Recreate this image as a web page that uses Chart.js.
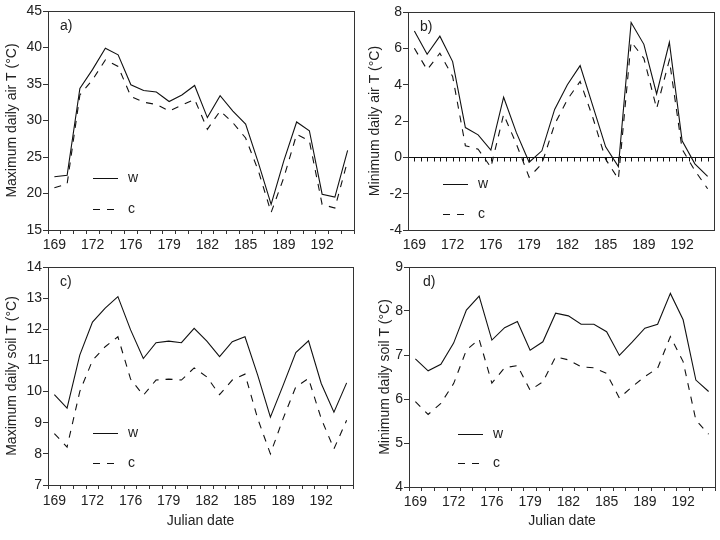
<!DOCTYPE html>
<html><head><meta charset="utf-8">
<script src="https://cdn.jsdelivr.net/npm/chart.js@4.4.0/dist/chart.umd.min.js"></script>
<style>
html,body{margin:0;padding:0;background:#fff;width:720px;height:540px;overflow:hidden}
canvas{position:absolute}
</style></head><body>
<canvas id="pa" width="360" height="258" style="left:0;top:0"></canvas>
<canvas id="pb" width="360" height="258" style="left:360px;top:0"></canvas>
<canvas id="pc" width="360" height="285" style="left:0;top:255px"></canvas>
<canvas id="pd" width="360" height="285" style="left:360px;top:255px"></canvas>
<script>
// Julian dates (categories) and tick labels
const dates = [169,170,171,172,173,174,176,177,178,179,180,181,182,183,184,185,186,187,189,190,191,192,193,194];
const seriesNames = ['w','c'];
// a) Maximum daily air T
const maxAirW = [22.3,22.5,34.4,37.0,39.9,39.0,34.9,34.1,33.9,32.6,33.5,34.8,30.4,33.4,31.3,29.5,24.2,18.5,24.5,29.8,28.6,19.9,19.5,25.9];
const maxAirC = [20.8,21.3,33.5,35.6,38.3,37.4,33.3,32.5,32.2,31.3,32.1,32.9,28.8,31.3,29.7,27.6,23.1,17.4,22.2,28.1,27.2,18.5,18.0,24.5];
// b) Minimum daily air T
const minAirW = [6.95,5.67,6.67,5.27,1.64,1.24,0.4,3.31,1.36,-0.27,0.36,2.64,4.0,5.05,2.82,0.58,-0.51,7.42,6.22,3.49,6.33,0.91,-0.36,-1.05];
const minAirC = [6.0,4.82,5.73,4.45,0.64,0.45,-0.55,2.36,0.73,-1.09,-0.36,1.82,3.18,4.18,2.18,-0.1,-1.2,6.36,5.45,2.69,5.36,0.45,-0.73,-1.73];
// c) Maximum daily soil T
const maxSoilW = [9.9,9.47,11.17,12.23,12.68,13.05,11.98,11.06,11.57,11.62,11.57,12.03,11.62,11.12,11.6,11.76,10.53,9.18,10.2,11.25,11.63,10.26,9.34,10.28];
const maxSoilC = [8.65,8.22,10.0,11.0,11.44,11.76,10.4,9.88,10.37,10.4,10.37,10.76,10.47,9.9,10.37,10.56,9.13,8.0,9.13,10.15,10.42,9.13,8.16,9.08];
// d) Minimum daily soil T
const minSoilW = [6.91,6.64,6.79,7.27,8.02,8.34,7.34,7.62,7.76,7.11,7.3,7.95,7.89,7.7,7.7,7.53,6.99,7.29,7.61,7.7,8.4,7.8,6.43,6.17];
const minSoilC = [5.94,5.65,5.9,6.35,7.11,7.36,6.36,6.71,6.76,6.2,6.39,6.96,6.89,6.73,6.71,6.58,6.02,6.28,6.51,6.7,7.42,6.85,5.52,5.2];

const FONT = '"Liberation Sans", Arial, sans-serif';
const INK = '#222';
const EDGE = '#333';
const DASH = [7,7];

const panelPlugin = {
  id: 'panel',
  afterDraw(chart) {
    const o = chart.options.plugins.panel;
    const ctx = chart.ctx, a = chart.chartArea;
    ctx.save();
    // zero line with ticks
    if (o.zero) {
      const y0 = Math.round(chart.scales.y.getPixelForValue(0)) + 0.5;
      ctx.strokeStyle = '#111'; ctx.lineWidth = 1;
      ctx.beginPath(); ctx.moveTo(a.left, y0); ctx.lineTo(a.right, y0); ctx.stroke();
      const xs = chart.scales.x;
      ctx.beginPath();
      for (let i = 0; i < dates.length; i++) {
        for (const d of [-0.5, 0]) {
          const px = Math.round(xs.getPixelForValue(i) + d * (xs.getPixelForValue(1) - xs.getPixelForValue(0))) + 0.5;
          if (px <= a.left + 2) continue;
          ctx.moveTo(px, y0); ctx.lineTo(px, y0 + 4);
        }
      }
      ctx.stroke();
    }
    // frame
    ctx.strokeStyle = EDGE; ctx.lineWidth = 1;
    ctx.strokeRect(Math.round(a.left) + 0.5, Math.round(a.top) + 0.5, Math.round(a.right - a.left), Math.round(a.bottom - a.top));
    // panel label
    ctx.fillStyle = INK;
    ctx.font = '14px ' + FONT;
    ctx.textBaseline = 'middle';
    ctx.textAlign = 'left';
    ctx.fillText(o.label, a.left + o.labelDx, a.top + 15);
    // legend
    const lg = o.legend;
    const x0 = a.left + lg.dx;
    ctx.strokeStyle = '#111';
    [[lg.dyW, []], [lg.dyC, DASH]].forEach(([dy, dash], k) => {
      const y = Math.round(a.bottom + dy) + 0.5;
      ctx.setLineDash(dash);
      ctx.beginPath(); ctx.moveTo(x0, y); ctx.lineTo(x0 + 25, y); ctx.stroke();
      ctx.setLineDash([]);
      ctx.fillText(seriesNames[k], x0 + 35, y);
    });
    ctx.restore();
  }
};

function makePanel(id, p) {
  new Chart(document.getElementById(id), {
    type: 'line',
    data: {
      labels: dates.map(String),
      datasets: [
        {label: seriesNames[0], data: p.w, borderColor: '#111', borderWidth: 1.1, pointRadius: 0, tension: 0, fill: false},
        {label: seriesNames[1], data: p.c, borderColor: '#111', borderWidth: 1.1, borderDash: DASH, pointRadius: 0, tension: 0, fill: false}
      ]
    },
    options: {
      responsive: false,
      animation: false,
      layout: {padding: {top: p.top, right: p.right, left: 0, bottom: 0}},
      plugins: {
        legend: {display: false},
        tooltip: {enabled: false},
        panel: {label: p.label, labelDx: p.labelDx, zero: p.zero, legend: p.legend}
      },
      scales: {
        x: {
          type: 'category',
          offset: true,
          grid: {display: true, drawOnChartArea: false, drawTicks: p.xTicks, tickLength: 4, color: EDGE, offset: true},
          border: {display: false},
          ticks: {autoSkip: false, maxRotation: 0, minRotation: 0, padding: p.xPad, color: INK,
                  font: {family: FONT, size: 14},
                  callback: (v, i) => (i % 3 === 0 ? String(dates[i]) : '')},
          title: p.xTitle ? {display: true, text: 'Julian date', color: INK, font: {family: FONT, size: 14}, padding: {top: 0, bottom: 10}} : {display: false},
          afterFit: s => { s.height = p.xH; }
        },
        y: {
          min: p.min, max: p.max,
          grid: {display: true, drawOnChartArea: false, drawTicks: true, tickLength: 5, color: EDGE},
          border: {display: false},
          ticks: {stepSize: p.step, padding: 1, color: INK, font: {family: FONT, size: 14}},
          title: {display: true, text: p.yTitle, color: INK, font: {family: FONT, size: 14}, padding: {top: p.yTitlePad, bottom: 0}},
          afterFit: s => { s.width = p.yW; }
        }
      }
    },
    plugins: [panelPlugin]
  });
}

makePanel('pa', {w: maxAirW, c: maxAirC, min: 15, max: 45, step: 5, yTitle: 'Maximum daily air T (°C)',
  label: 'a)', labelDx: 12, zero: false, top: 11, right: 6, yW: 48, xH: 28, xTicks: true, xPad: 3, xTitle: false, yTitlePad: 4,
  legend: {dx: 45, dyW: -52, dyC: -21}});
makePanel('pb', {w: minAirW, c: minAirC, min: -4, max: 8, step: 2, yTitle: 'Minimum daily air T (°C)',
  label: 'b)', labelDx: 12, zero: true, top: 12, right: 6, yW: 48, xH: 28, xTicks: false, xPad: 7, xTitle: false, yTitlePad: 6.5,
  legend: {dx: 35, dyW: -46, dyC: -16}});
makePanel('pc', {w: maxSoilW, c: maxSoilC, min: 7, max: 14, step: 1, yTitle: 'Maximum daily soil T (°C)',
  label: 'c)', labelDx: 12, zero: false, top: 12, right: 7, yW: 48, xH: 55, xTicks: true, xPad: 4, xTitle: true, yTitlePad: 4,
  legend: {dx: 45, dyW: -52, dyC: -22}});
makePanel('pd', {w: minSoilW, c: minSoilC, min: 4, max: 9, step: 1, yTitle: 'Minimum daily soil T (°C)',
  label: 'd)', labelDx: 14, zero: false, top: 12, right: 5, yW: 49, xH: 53, xTicks: true, xPad: 3, xTitle: true, yTitlePad: 16.5,
  legend: {dx: 49, dyW: -53, dyC: -24}});
</script>
</body></html>
